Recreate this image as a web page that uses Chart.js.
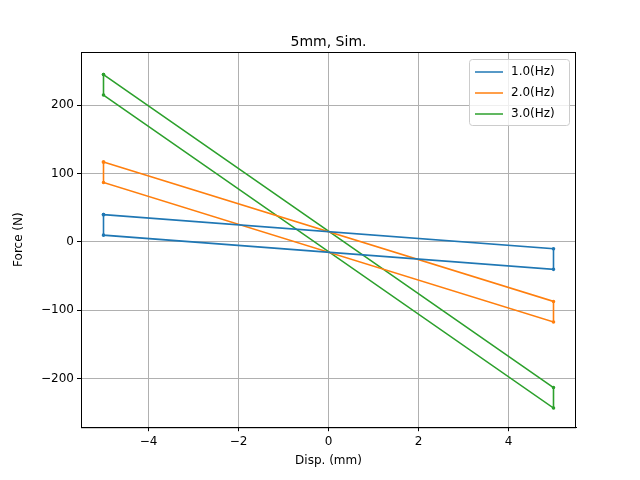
<!DOCTYPE html>
<html><head><meta charset="utf-8">
<script src="https://cdn.jsdelivr.net/npm/chart.js@4/dist/chart.umd.min.js"></script>
<style>body{margin:0;background:#fff}#wrap{width:640px;height:480px}</style>
</head><body><div id="wrap"><canvas id="c" width="640" height="480"></canvas></div>
<script>
const labels = ["1.0(Hz)", "2.0(Hz)", "3.0(Hz)"];
const colors = ["#1f77b4", "#ff7f0e", "#2ca02c"];
// loop vertices: disp (mm)
const disp = [-5, 5, 5, -5, -5];
const force1 = [40, -10, -40, 10, 40];
const force2 = [117, -87, -117, 87, 117];
const force3 = [245, -213, -243, 215, 245];
const forces = [force1, force2, force3];

Chart.defaults.font = {family: "DejaVu Sans", size: 12};
Chart.defaults.color = "#000";

const extras = {
  id: "extras",
  afterDraw(chart) {
    const ctx = chart.ctx, a = chart.chartArea;
    ctx.save();
    // frame
    ctx.strokeStyle = "#000"; ctx.lineWidth = 1;
    ctx.strokeRect(a.left + 0.5, a.top + 0.5, a.right - a.left - 1, a.bottom - a.top);
    // title
    ctx.fillStyle = "#000";
    ctx.font = "14px DejaVu Sans";
    ctx.textAlign = "center"; ctx.textBaseline = "alphabetic";
    ctx.fillText("5mm, Sim.", (a.left + a.right) / 2, a.top - 6);
    // legend
    const w = 100, h = 66, x = a.right - w - 7, y = a.top + 7;
    ctx.textAlign = "left";
    ctx.fillStyle = "rgba(255,255,255,0.8)";
    ctx.strokeStyle = "#ccc";
    ctx.beginPath(); ctx.roundRect(x + 0.5, y + 0.5, w, h, 3); ctx.fill(); ctx.stroke();
    ctx.font = "12px DejaVu Sans";
    ctx.textBaseline = "middle";
    labels.forEach((l, i) => {
      const ly = y + 13 + i * 21;
      ctx.strokeStyle = colors[i]; ctx.lineWidth = 1.5;
      ctx.beginPath(); ctx.moveTo(x + 6, ly); ctx.lineTo(x + 34, ly); ctx.stroke();
      ctx.fillStyle = "#000"; ctx.fillText(l, x + 42, ly);
    });
    ctx.restore();
  }
};

new Chart(document.getElementById("c"), {
  type: "scatter",
  data: {
    datasets: forces.map((f, i) => ({
      label: labels[i],
      data: disp.map((x, j) => ({x: x, y: f[j]})),
      showLine: true,
      borderColor: colors[i],
      backgroundColor: colors[i],
      borderWidth: 1.6,
      pointRadius: 1,
      pointHoverRadius: 1
    }))
  },
  options: {
    responsive: false,
    animation: false,
    layout: {padding: {top: 52, right: 64, bottom: 8, left: 8}},
    plugins: {
      legend: {display: false},
      tooltip: {enabled: false},
      title: {display: false}
    },
    scales: {
      x: {
        min: -5.5, max: 5.5,
        title: {display: true, text: "Disp. (mm)", padding: {top: 2}},
        ticks: {callback: v => (v < 0 ? "\u2212" + (-v) : v), maxRotation: 0},
        afterBuildTicks: s => { s.ticks = [-4, -2, 0, 2, 4].map(v => ({value: v})); },
        grid: {color: "#b0b0b0", tickColor: "#000", tickLength: 4},
        border: {color: "#000"}
      },
      y: {
        min: -271, max: 278,
        title: {display: true, text: "Force (N)"},
        afterBuildTicks: s => { s.ticks = [-200, -100, 0, 100, 200].map(v => ({value: v})); },
        ticks: {callback: v => (v < 0 ? "\u2212" + (-v) : v)},
        afterFit: s => { s.width = 73; },
        grid: {color: "#b0b0b0", tickColor: "#000", tickLength: 4},
        border: {color: "#000"}
      }
    }
  },
  plugins: [extras]
});
</script></body></html>
